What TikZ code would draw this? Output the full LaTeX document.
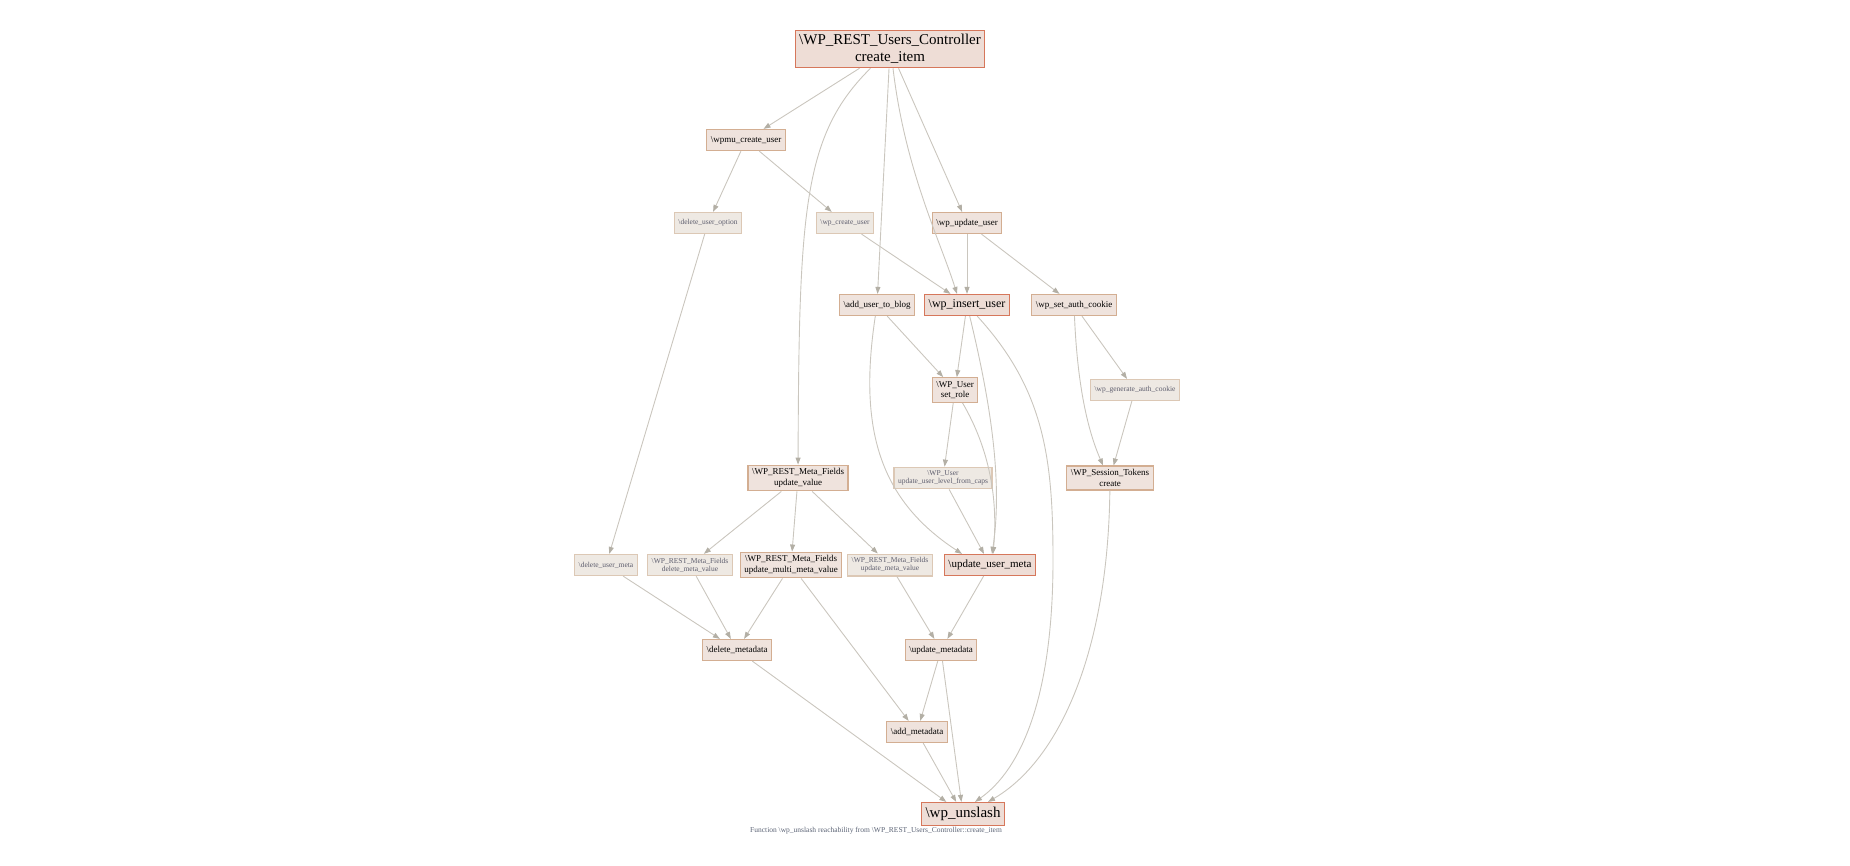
\documentclass[tikz,border=0pt]{standalone}
\usepackage{fontspec}
\setmainfont{Liberation Serif}
\usetikzlibrary{arrows.meta}
\definecolor{hotline}{HTML}{D6775B}
\definecolor{hotfill}{HTML}{EEDDD6}
\definecolor{midline}{HTML}{D3AE92}
\definecolor{midfill}{HTML}{EFE3DD}
\definecolor{paleline}{HTML}{DCC8B5}
\definecolor{palefill}{HTML}{EEE9E3}
\definecolor{paletext}{HTML}{5E5E6E}
\definecolor{edgec}{HTML}{CAC6BE}
\definecolor{tipc}{HTML}{B3AFA5}
\definecolor{captext}{HTML}{5A6274}
\tikzset{
  fn/.style={draw=midline,fill=midfill,line width=1.2pt,inner xsep=4pt,inner ysep=3.5pt,
    minimum height=21pt,align=center,font=\fontsize{9}{10.5}\selectfont},
  pale/.style={fn,draw=paleline,fill=palefill,text=paletext,font=\fontsize{7.5}{8}\selectfont},
  hot/.style={fn,draw=hotline,fill=hotfill},
  edge/.style={draw=edgec,line width=0.9pt,-{Triangle[length=7pt,width=5pt,color=tipc]}}
}
\begin{document}
\begin{tikzpicture}[x=1pt,y=-1pt]
  \useasboundingbox (0,0) rectangle (1850,865);
  % top
  \node[hot,font=\fontsize{15}{17}\selectfont,inner ysep=4pt] (ctrl) at (890,49) {\textbackslash WP\_REST\_Users\_Controller\\create\_item};
  \node[fn] (wpmu) at (746,140) {\textbackslash wpmu\_create\_user};
  \node[pale] (deluo) at (708,223) {\textbackslash delete\_user\_option};
  \node[pale] (wpcu) at (845,223) {\textbackslash wp\_create\_user};
  \node[fn] (wpuu) at (967,223) {\textbackslash wp\_update\_user};
  \node[fn] (addblog) at (877,305) {\textbackslash add\_user\_to\_blog};
  \node[hot,font=\fontsize{12}{14}\selectfont] (insert) at (967,305) {\textbackslash wp\_insert\_user};
  \node[fn] (setauth) at (1074,305) {\textbackslash wp\_set\_auth\_cookie};
  \node[fn] (setrole) at (955,390) {\textbackslash WP\_User\\set\_role};
  \node[pale] (genauth) at (1135,390) {\textbackslash wp\_generate\_auth\_cookie};
  % middle
  \node[fn] (mfupd) at (798,478) {\textbackslash WP\_REST\_Meta\_Fields\\update\_value};
  \node[pale] (lvl) at (943,478) {\textbackslash WP\_User\\update\_user\_level\_from\_caps};
  \node[fn] (tokens) at (1110,478) {\textbackslash WP\_Session\_Tokens\\create};
  \node[pale] (delum) at (606,565) {\textbackslash delete\_user\_meta};
  \node[pale] (delmv) at (690,565) {\textbackslash WP\_REST\_Meta\_Fields\\delete\_meta\_value};
  \node[fn] (multi) at (791,565) {\textbackslash WP\_REST\_Meta\_Fields\\update\_multi\_meta\_value};
  \node[pale] (updmv) at (890,565) {\textbackslash WP\_REST\_Meta\_Fields\\update\_meta\_value};
  \node[hot,font=\fontsize{11}{13}\selectfont] (uum) at (990,565) {\textbackslash update\_user\_meta};
  % bottom
  \node[fn] (delmd) at (737,650) {\textbackslash delete\_metadata};
  \node[fn] (updmd) at (941,650) {\textbackslash update\_metadata};
  \node[fn] (addmd) at (917,732) {\textbackslash add\_metadata};
  \node[hot,font=\fontsize{15}{17}\selectfont,minimum height=23pt] (unslash) at (963,814) {\textbackslash wp\_unslash};
  \node[font=\fontsize{7.5}{8}\selectfont,text=captext] (cap) at (876,831) {Function \textbackslash wp\_unslash reachability from \textbackslash WP\_REST\_Users\_Controller::create\_item};
  % straight calls
  \foreach \a/\b in {ctrl/wpmu,ctrl/addblog,ctrl/wpuu,wpmu/deluo,wpmu/wpcu,deluo/delum,wpcu/insert,
      wpuu/insert,wpuu/setauth,addblog/setrole,insert/setrole,setauth/genauth,genauth/tokens,
      setrole/lvl,lvl/uum,mfupd/delmv,mfupd/multi,mfupd/updmv,delum/delmd,delmv/delmd,multi/delmd,
      multi/addmd,updmv/updmd,uum/updmd,delmd/unslash,updmd/addmd,updmd/unslash,addmd/unslash}
    \draw[edge] (\a) -- (\b);
  % curved calls
  \draw[edge] (ctrl) .. controls (803,135) and (799,210) .. (mfupd);
  \draw[edge] ([xshift=3pt]ctrl.south) .. controls (905,170) and (940,240) .. ([xshift=-10pt]insert.north);
  \draw[edge] (addblog) .. controls (858,430) and (880,500) .. ([xshift=-28pt]uum.north);
  \draw[edge] (insert) .. controls (990,400) and (1003,480) .. ([xshift=2pt]uum.north);
  \draw[edge] (setrole) .. controls (990,450) and (998,500) .. ([xshift=3pt]uum.north);
  \draw[edge] (insert) .. controls (1045,390) and (1053,460) .. (1053,560)
    .. controls (1053,700) and (1020,770) .. ([xshift=12pt]unslash.north);
  \draw[edge] (setauth) .. controls (1078,400) and (1092,440) .. ([xshift=-7pt]tokens.north);
  \draw[edge] (tokens) .. controls (1108,650) and (1060,760) .. ([xshift=25pt]unslash.north);
\end{tikzpicture}
\end{document}
